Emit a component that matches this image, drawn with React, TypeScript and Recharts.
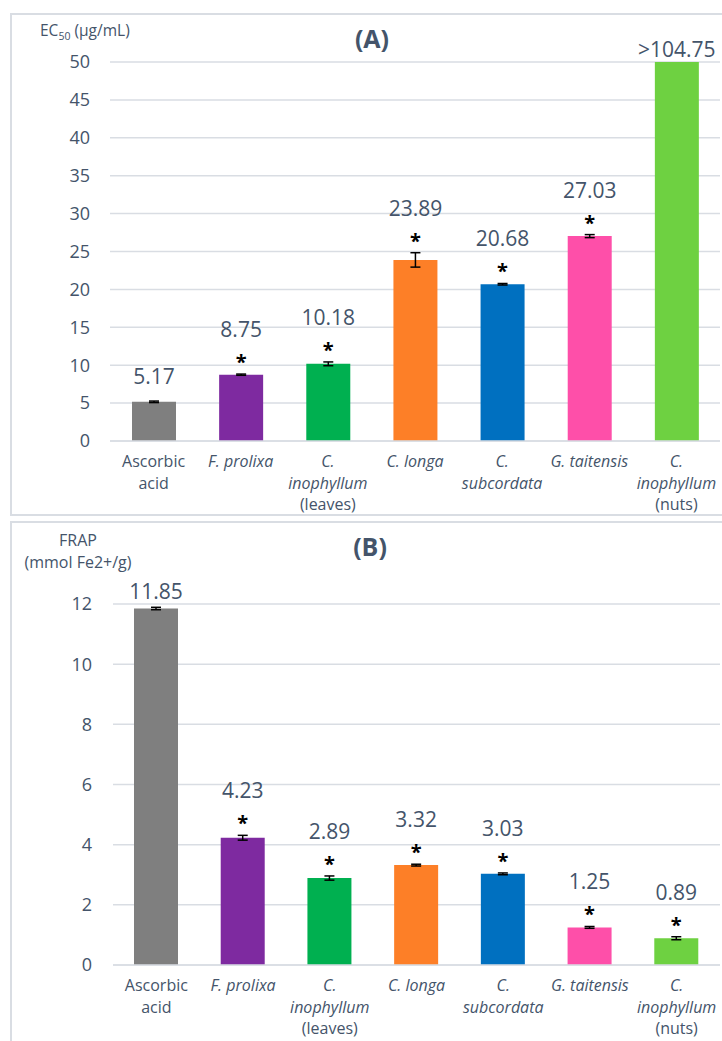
import { BarChart, Bar, XAxis, YAxis, CartesianGrid, ErrorBar, LabelList, Cell } from "recharts";

const categories = [
  "Ascorbic acid",
  "F. prolixa",
  "C. inophyllum (leaves)",
  "C. longa",
  "C. subcordata",
  "G. taitensis",
  "C. inophyllum (nuts)",
];
const tickLines = [
  ["Ascorbic", "acid"],
  ["F. prolixa"],
  ["C.", "inophyllum", "(leaves)"],
  ["C. longa"],
  ["C.", "subcordata"],
  ["G. taitensis"],
  ["C.", "inophyllum", "(nuts)"],
];
const italicLines = [
  [false, false],
  [true],
  [true, true, false],
  [true],
  [true, true],
  [true],
  [true, true, false],
];
const barColors = ["#7f7f7f", "#7e2aa0", "#00b050", "#fd7f27", "#0070c0", "#fe4fa9", "#6ed141"];

// (A) EC50, µg/mL
const ecValues = [5.17, 8.75, 10.18, 23.89, 20.68, 27.03, 104.75];
const ecErrors = [0.1, 0.08, 0.25, 0.95, 0.1, 0.2, null];
const ecLabels = ["5.17", "8.75", "10.18", "23.89", "20.68", "27.03", ">104.75"];
const ecStars = [false, true, true, true, true, true, false];
const ecTicks = [0, 5, 10, 15, 20, 25, 30, 35, 40, 45, 50];

// (B) FRAP, mmol Fe2+/g
const frapValues = [11.85, 4.23, 2.89, 3.32, 3.03, 1.25, 0.89];
const frapErrors = [0.04, 0.08, 0.07, 0.03, 0.03, 0.03, 0.05];
const frapLabels = ["11.85", "4.23", "2.89", "3.32", "3.03", "1.25", "0.89"];
const frapStars = [false, true, true, true, true, true, true];
const frapTicks = [0, 2, 4, 6, 8, 10, 12];

const TEXT = "#44546a";
const GRID = "#d9dde3";
const FONT = "'Open Sans', sans-serif";

function CategoryTick(props: any) {
  const { x, y, index } = props;
  const lines = tickLines[index] || [];
  return (
    <text x={x} y={y} textAnchor="middle" fill={TEXT} fontSize={16} fontFamily={FONT}>
      {lines.map((l, i) => (
        <tspan key={i} x={x} dy={i === 0 ? 18 : 21.5} fontStyle={italicLines[index][i] ? "italic" : "normal"}>
          {l}
        </tspan>
      ))}
    </text>
  );
}

function makeLabel(texts: string[], stars: boolean[], errs: (number | null)[], pxPerUnit: number, plotTop: number) {
  return (props: any) => {
    const { x, y, width, index } = props;
    const cx = x + width / 2;
    const top = y - (errs[index] ?? 0) * pxPerUnit;
    const base = Math.max(top - (stars[index] ? 37 : 17.5), plotTop - 5);
    return (
      <g>
        <text x={cx} y={base} textAnchor="middle" fill={TEXT} fontSize={21} fontFamily={FONT}>
          {texts[index]}
        </text>
        {stars[index] && (
          <text x={cx} y={top - 5} textAnchor="middle" fill="#000" fontSize={20} fontWeight="bold" fontFamily={FONT}>
            *
          </text>
        )}
      </g>
    );
  };
}

const EC_MAX = 50;
const FRAP_MAX = 12;

export default function App() {
  const ecData = categories.map((c, i) => ({
    name: c,
    value: Math.min(ecValues[i], EC_MAX),
    err: ecErrors[i],
  }));
  const frapData = categories.map((c, i) => ({
    name: c,
    value: frapValues[i],
    err: frapErrors[i],
  }));

  const aTop = 62;
  const aBottom = 441;
  const bTop = 84;
  const bBottom = 445;

  return (
    <div style={{ position: "absolute", left: 0, top: 0, width: 722, height: 1041, background: "#fff", fontFamily: FONT, overflow: "hidden" }}>
      {/* panel borders */}
      <div style={{ position: "absolute", left: 10, top: 13, width: 720, height: 503, border: `2px solid ${GRID}`, boxSizing: "border-box" }} />
      <div style={{ position: "absolute", left: 10, top: 521, width: 720, height: 530, border: `2px solid ${GRID}`, boxSizing: "border-box" }} />

      {/* panel A */}
      <div style={{ position: "absolute", left: 0, top: 0 }}>
        <BarChart width={722} height={520} data={ecData} margin={{ top: aTop, right: 2, bottom: 19, left: 0 }}>
          <CartesianGrid vertical={false} stroke={GRID} strokeWidth={1.5} />
          <XAxis dataKey="name" height={60} tick={<CategoryTick />} tickLine={false} axisLine={{ stroke: GRID, strokeWidth: 1.5 }} interval={0} />
          <YAxis width={110} domain={[0, EC_MAX]} ticks={ecTicks} allowDataOverflow tickLine={false} axisLine={false} tickMargin={14}
            tick={{ fill: TEXT, fontSize: 18, fontFamily: FONT }} />
          <Bar dataKey="value" barSize={44} isAnimationActive={false}>
            {ecData.map((_, i) => (
              <Cell key={i} fill={barColors[i]} />
            ))}
            <ErrorBar dataKey="err" width={5} stroke="#000" strokeWidth={1.5} />
            <LabelList dataKey="value" content={makeLabel(ecLabels, ecStars, ecErrors, (aBottom - aTop) / EC_MAX, aTop)} />
          </Bar>
        </BarChart>
      </div>
      <div style={{ position: "absolute", left: 40, top: 19, fontSize: 15.5, color: TEXT, whiteSpace: "nowrap" }}>
        EC<sub style={{ fontSize: 10.5 }}>50</sub> (µg/mL)
      </div>
      <div style={{ position: "absolute", left: 322, top: 21, width: 100, textAlign: "center", fontSize: 25, fontWeight: "bold", color: TEXT }}>
        (A)
      </div>

      {/* panel B */}
      <div style={{ position: "absolute", left: 0, top: 520 }}>
        <BarChart width={722} height={521} data={frapData} margin={{ top: bTop, right: 2, bottom: 16, left: 0 }}>
          <CartesianGrid vertical={false} stroke={GRID} strokeWidth={1.5} />
          <XAxis dataKey="name" height={60} tick={<CategoryTick />} tickLine={false} axisLine={{ stroke: GRID, strokeWidth: 1.5 }} interval={0} />
          <YAxis width={113} domain={[0, FRAP_MAX]} ticks={frapTicks} tickLine={false} axisLine={false} tickMargin={15}
            tick={{ fill: TEXT, fontSize: 18, fontFamily: FONT }} />
          <Bar dataKey="value" barSize={44} isAnimationActive={false}>
            {frapData.map((_, i) => (
              <Cell key={i} fill={barColors[i]} />
            ))}
            <ErrorBar dataKey="err" width={5} stroke="#000" strokeWidth={1.5} />
            <LabelList dataKey="value" content={makeLabel(frapLabels, frapStars, frapErrors, (bBottom - bTop) / FRAP_MAX, bTop)} />
          </Bar>
        </BarChart>
      </div>
      <div style={{ position: "absolute", left: 18, top: 529, width: 120, textAlign: "center", fontSize: 16, lineHeight: "22px", color: TEXT }}>
        FRAP
        <br />
        (mmol Fe2+/g)
      </div>
      <div style={{ position: "absolute", left: 320, top: 529, width: 100, textAlign: "center", fontSize: 25, fontWeight: "bold", color: TEXT }}>
        (B)
      </div>
    </div>
  );
}
